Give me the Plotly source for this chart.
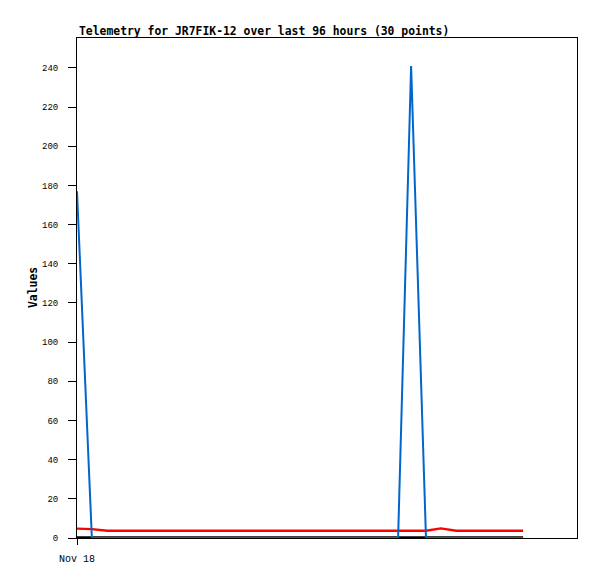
import plotly.graph_objects as go
from datetime import datetime, timedelta

# Data (hours after Nov 18 00:00)
hours = [0, 3.2, 6.5, 9.8, 13.1, 16.4, 19.7, 23.0, 26.3, 29.6, 32.9, 36.2, 39.5, 42.8,
         46.1, 49.4, 52.7, 56.0, 59.3, 62.6, 65.9, 69.1, 71.9, 75.1, 78.3, 81.6, 84.9,
         88.2, 91.5, 96.0]
blue_vals = [177, 0, 0, 0, 0, 0, 0, 0, 0, 0, 0, 0, 0, 0, 0, 0, 0, 0, 0, 0, 0, 0, 241, 0,
             0, 0, 0, 0, 0, 0]
red_vals = [4.8, 4.5, 3.7, 3.7, 3.7, 3.7, 3.7, 3.7, 3.7, 3.7, 3.7, 3.7, 3.7, 3.7, 3.7,
            3.7, 3.7, 3.7, 3.7, 3.7, 3.7, 3.7, 3.7, 3.7, 4.9, 3.7, 3.7, 3.7, 3.7, 3.7]
black_vals = [0] * 30
y_ticks = [0, 20, 40, 60, 80, 100, 120, 140, 160, 180, 200, 220, 240]
title_text = "Telemetry for JR7FIK-12 over last 96 hours (30 points)"

start = datetime(2023, 11, 18, 0, 0)
times = [start + timedelta(hours=h) for h in hours]
x_end = start + timedelta(hours=107.6)

fig = go.Figure()
fig.add_trace(go.Scatter(x=times, y=black_vals, mode="lines",
                         line=dict(color="#000000", width=3.5), showlegend=False))
fig.add_trace(go.Scatter(x=times, y=red_vals, mode="lines",
                         line=dict(color="#FF0000", width=2.3), showlegend=False))
fig.add_trace(go.Scatter(x=times, y=blue_vals, mode="lines",
                         line=dict(color="#0066CC", width=2), showlegend=False))

mono = "DejaVu Sans Mono"
tickmono = "Liberation Mono"
fig.update_layout(
    width=589, height=571,
    margin=dict(l=69, r=20, t=30, b=41),
    paper_bgcolor="white", plot_bgcolor="white",
    font=dict(family=tickmono, size=9, color="black"),
    xaxis=dict(range=[start, x_end], tickvals=[start], ticktext=["Nov 18"],
               ticks="outside", ticklen=6, tickcolor="black", ticklabelstandoff=5,
               showgrid=False, zeroline=False, showline=True, linecolor="black",
               linewidth=1, mirror=True, tickfont=dict(family=tickmono, size=10)),
    yaxis=dict(range=[0, 255.3], tickvals=y_ticks, ticks="outside", ticklen=8,
               tickcolor="black", ticklabelstandoff=8, showgrid=False, zeroline=False,
               showline=True, linecolor="black", linewidth=1, mirror=True,
               tickfont=dict(family=tickmono, size=9)),
    annotations=[
        dict(text="<b>" + title_text + "</b>", xref="paper", yref="paper", x=0, y=1,
             xanchor="left", yanchor="bottom", showarrow=False, yshift=-2,
             font=dict(family=mono, size=11.4, color="black")),
        dict(text="<b>Values</b>", xref="paper", yref="paper", x=-0.088, y=0.5,
             xanchor="center", yanchor="middle", textangle=-90, showarrow=False,
             font=dict(family=mono, size=11.4, color="black")),
    ],
)

fig.write_html("out.html")
